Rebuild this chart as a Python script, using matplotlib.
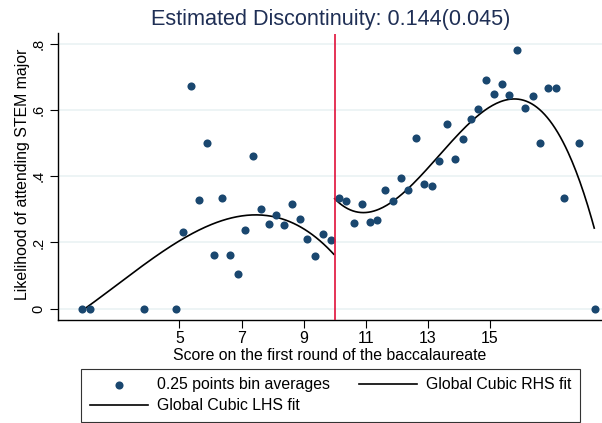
import numpy as np
import matplotlib
matplotlib.use("Agg")
import matplotlib.pyplot as plt

plt.rcParams['font.family'] = ['Liberation Sans', 'DejaVu Sans']

# bin averages (0.25 point bins)
lhs_x = [1.875, 2.125, 3.875, 4.875, 5.125, 5.375, 5.625, 5.875, 6.125, 6.375,
         6.625, 6.875, 7.125, 7.375, 7.625, 7.875, 8.125, 8.375, 8.625, 8.875,
         9.125, 9.375, 9.625, 9.875]
lhs_y = [0.0, 0.0, 0.0, 0.0, 0.233, 0.672, 0.328, 0.500, 0.162, 0.333,
         0.162, 0.104, 0.238, 0.461, 0.300, 0.256, 0.283, 0.254, 0.317, 0.271,
         0.211, 0.158, 0.226, 0.207]
rhs_x = [10.125, 10.375, 10.625, 10.875, 11.125, 11.375, 11.625, 11.875, 12.125, 12.375,
         12.625, 12.875, 13.125, 13.375, 13.625, 13.875, 14.125, 14.375, 14.625, 14.875,
         15.125, 15.375, 15.625, 15.875, 16.125, 16.375, 16.625, 16.875, 17.125, 17.375,
         17.875, 18.375]
rhs_y = [0.333, 0.324, 0.258, 0.315, 0.261, 0.268, 0.359, 0.324, 0.395, 0.359,
         0.515, 0.376, 0.370, 0.447, 0.559, 0.453, 0.512, 0.574, 0.604, 0.690,
         0.648, 0.678, 0.646, 0.781, 0.605, 0.642, 0.500, 0.666, 0.665, 0.333,
         0.500, 0.0]

# points
lfit_x = [1.9, 3.84, 5.13, 7.44, 9.10, 9.97]
lfit_y = [0.0, 0.117, 0.226, 0.286, 0.223, 0.172]
rfit_x = [10.0, 10.82, 12.37, 14.10, 15.76, 17.26, 18.36]
rfit_y = [0.330, 0.293, 0.369, 0.522, 0.651, 0.510, 0.246]

cutoff = 10
xticks = [5, 7, 9, 11, 13, 15]
yticks = [0, 0.2, 0.4, 0.6, 0.8]
ytick_labels = ['0', '.2', '.4', '.6', '.8']

navy = '#1a476f'

fig = plt.figure(figsize=(6.02, 4.23), dpi=100)
ax = fig.add_axes([58 / 602, 1 - 320 / 423, 1 - 58 / 602, (320 - 33.5) / 423])

# cubic fits through the read curve points
pl = np.polyfit(lfit_x, lfit_y, 3)
pr = np.polyfit(rfit_x, rfit_y, 3)
xl = np.linspace(lfit_x[0], lfit_x[-1], 200)
xr = np.linspace(rfit_x[0], rfit_x[-1], 200)

sc = ax.scatter(lhs_x + rhs_x, lhs_y + rhs_y, s=34, color=navy, zorder=3,
                linewidths=0, label='0.25 points bin averages')
lr, = ax.plot(xr, np.polyval(pr, xr), color='black', lw=1.2, zorder=2,
              label='Global Cubic RHS fit')
ll, = ax.plot(xl, np.polyval(pl, xl), color='black', lw=1.2, zorder=2,
              label='Global Cubic LHS fit')
ax.axvline(cutoff, color='#e0103a', lw=1.2, zorder=4)

ax.set_xlim(1.09, 18.61)
ax.set_ylim(-0.034, 0.831)
ax.set_xticks(xticks)
ax.set_yticks(yticks)
ax.set_yticklabels(ytick_labels)
ax.grid(axis='y', color='#eaf2f3', lw=1.2)
ax.set_axisbelow(True)
for s in ['top', 'right']:
    ax.spines[s].set_visible(False)
for s in ['left', 'bottom']:
    ax.spines[s].set_linewidth(1.0)
ax.tick_params(axis='x', length=6, width=0.8, labelsize=11.4, pad=2)
ax.tick_params(axis='y', length=6, width=0.8, labelsize=10.5, pad=3,
               labelrotation=90)
for t in ax.get_yticklabels():
    t.set_va('center')

ax.set_xlabel('Score on the first round of the baccalaureate', fontsize=11.4,
              labelpad=1)
ax.set_ylabel('Likelihood of attending STEM major', fontsize=11.4)
ax.yaxis.set_label_coords(-0.052, 0.51)
ax.set_title('Estimated Discontinuity: 0.144(0.045)', fontsize=15.6,
             color='#1f2f55', x=(331 - 58) / 544, pad=6)

leg = fig.legend([sc, ll, lr],
                 ['0.25 points bin averages', 'Global Cubic LHS fit',
                  'Global Cubic RHS fit'],
                 ncol=2, loc='lower left', bbox_to_anchor=(81 / 602, 1 / 423),
                 fontsize=11.4, frameon=True, fancybox=False, shadow=False,
                 framealpha=1, edgecolor='#333333', handlelength=3.7,
                 handletextpad=0.57, columnspacing=1.8, borderpad=0.54,
                 labelspacing=0.38, scatterpoints=1, borderaxespad=0)
leg.get_frame().set_linewidth(0.8)

fig.savefig('out.png', dpi=100)
